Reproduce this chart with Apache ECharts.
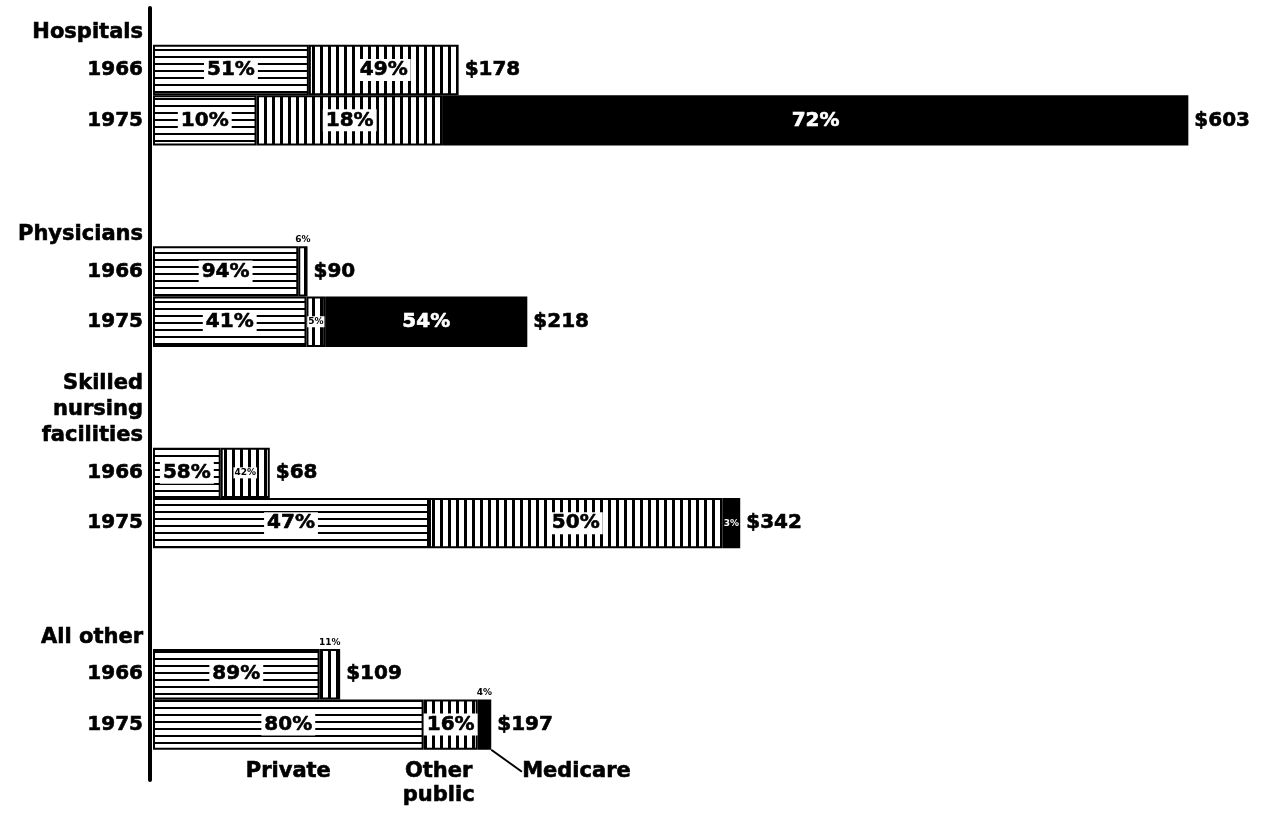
<!DOCTYPE html>
<html><head><meta charset="utf-8">
<script src="https://cdn.jsdelivr.net/npm/echarts@6/dist/echarts.min.js"></script>
<style>html,body{margin:0;padding:0;background:#fff}#c{width:1269px;height:813px}</style>
</head><body><div id="c"></div>
<script>
// ---- data (rows in order: group x year) ----
const groups = ['Hospitals', 'Physicians', 'Skilled\nnursing\nfacilities', 'All other'];
const years = ['1966', '1975'];
const totals         = [178, 603, 90, 218, 68, 342, 109, 197];
const privatePct     = [51, 10, 94, 41, 58, 47, 89, 80];
const otherPublicPct = [49, 18, 6, 5, 42, 50, 11, 16];
const medicarePct    = [0, 72, 0, 54, 0, 3, 0, 4];
const segmentNames   = ['Private', 'Other public', 'Medicare'];
const annotationText = ['Private', 'Other\npublic', 'Medicare'];

// ---- styles for small labels (row index -> placement) ----
const smallLabels = [
  {},
  {2: 'top', 3: 'inside', 4: 'inside', 6: 'top'},
  {5: 'inside', 7: 'top'}
];

const FONT = 'DejaVu Sans';
const STROKE = 0.6;
const pcts = [privatePct, otherPublicPct, medicarePct];

// categories with gap slots between groups
const cats = [], rowOfCat = [];
groups.forEach((g, gi) => {
  if (gi > 0) { cats.push('gap' + gi + 'a'); rowOfCat.push(-1); cats.push('gap' + gi + 'b'); rowOfCat.push(-1); }
  years.forEach((y, yi) => { cats.push(g + ' ' + y); rowOfCat.push(gi * 2 + yi); });
});
const lastRow = totals.length - 1;

function hatch(vertical) {
  const c = document.createElement('canvas');
  if (vertical) { c.width = 8; c.height = 4; } else { c.width = 4; c.height = 7; }
  const ctx = c.getContext('2d');
  ctx.fillStyle = '#fff'; ctx.fillRect(0, 0, c.width, c.height);
  ctx.fillStyle = '#000';
  if (vertical) ctx.fillRect(0, 0, 3, c.height); else ctx.fillRect(0, 0, c.width, 2);
  return c;
}
const fills = [
  {image: hatch(false), repeat: 'repeat'},
  {image: hatch(true), repeat: 'repeat'},
  '#000'
];

const baseLabel = {fontFamily: FONT, fontWeight: 'bold', fontSize: 20, textBorderColor: '#000', textBorderWidth: STROKE};

function segLabel(s, r) {
  const mode = smallLabels[s][r];
  const dark = s === 2;
  if (mode === 'top') {
    return {show: true, position: 'top', distance: 2, fontSize: 9, color: '#000', backgroundColor: 'transparent', padding: 0, textBorderWidth: 0};
  }
  if (mode === 'inside') {
    return {show: true, position: 'inside', fontSize: 9, color: dark ? '#fff' : '#000', textBorderWidth: 0,
            backgroundColor: dark ? 'transparent' : '#fff', padding: [1, 1]};
  }
  return null;
}

const series = [];
segmentNames.forEach((name, s) => {
  series.push({
    name, type: 'bar', stack: 'main', xAxisIndex: 0, yAxisIndex: 0,
    barGap: '-100%', barCategoryGap: '0%',
    itemStyle: {color: fills[s], borderColor: '#000', borderWidth: 2},
    label: Object.assign({}, baseLabel, {
      show: true, position: 'inside', color: s === 2 ? '#fff' : '#000',
      textBorderColor: s === 2 ? '#fff' : '#000',
      backgroundColor: s === 2 ? 'transparent' : '#fff', padding: [1, 3],
      formatter: p => p.data.pct + '%'
    }),
    emphasis: {disabled: true},
    data: cats.map((c, ci) => {
      const r = rowOfCat[ci];
      if (r < 0 || !pcts[s][r]) return '-';
      const item = {value: totals[r] * pcts[s][r] / 100, pct: pcts[s][r]};
      const l = segLabel(s, r);
      if (l) item.label = l;
      return item;
    })
  });
});

// totals at bar ends
series.push({
  name: 'Total', type: 'bar', xAxisIndex: 0, yAxisIndex: 0,
  barGap: '-100%', barCategoryGap: '0%', silent: true,
  itemStyle: {color: 'rgba(0,0,0,0)', borderWidth: 0},
  label: Object.assign({}, baseLabel, {show: true, position: 'right', distance: 6, color: '#000',
    formatter: p => '$' + p.value}),
  data: cats.map((c, ci) => rowOfCat[ci] < 0 ? '-' : totals[rowOfCat[ci]])
});

// segment annotations under the last bar
segmentNames.forEach((name, s) => {
  const lbl = Object.assign({}, baseLabel, {show: true, position: 'bottom', distance: 10, color: '#000',
    fontSize: 21, lineHeight: 24, formatter: () => annotationText[s]});
  const sr = {
    name: name + ' note', type: 'bar', stack: 'annot', xAxisIndex: 0, yAxisIndex: 0,
    barGap: '-100%', barCategoryGap: '0%', silent: true,
    itemStyle: {color: 'rgba(0,0,0,0)', borderWidth: 0},
    label: lbl,
    data: cats.map((c, ci) => rowOfCat[ci] === lastRow ? totals[lastRow] * pcts[s][lastRow] / 100 : '-')
  };
  if (s === 1) sr.labelLayout = {dx: -12};
  if (s === 2) {
    sr.labelLayout = {dx: 92, dy: 0};
    sr.labelLine = {show: true, length2: 0, lineStyle: {color: '#000', width: 2}};
  }
  series.push(sr);
});

const txt = {fontFamily: FONT, fontWeight: 'bold', align: 'right', color: '#000', textBorderColor: '#000', textBorderWidth: STROKE};
const rich = {
  g: Object.assign({}, txt, {fontSize: 21, lineHeight: 26}),
  y: Object.assign({}, txt, {fontSize: 20, lineHeight: 48}),
  y2: Object.assign({}, txt, {fontSize: 20}),
  s1: {fontSize: 1, lineHeight: 26, align: 'right'},
  s3: {fontSize: 1, lineHeight: 78, align: 'right'}
};

const chart = echarts.init(document.getElementById('c'), null, {renderer: 'canvas'});
chart.setOption({
  animation: false,
  backgroundColor: '#fff',
  grid: [
    {left: 153, top: 44.8, height: 705, width: 620 * 1.717},
    {left: 150, top: 8, height: 772, width: 100}
  ],
  xAxis: [
    {type: 'value', gridIndex: 0, min: 0, max: 620, show: false},
    {type: 'value', gridIndex: 1, min: 0, max: 1, show: false}
  ],
  yAxis: [
    {
      type: 'category', gridIndex: 0, data: cats, inverse: true,
      axisLine: {show: false}, axisTick: {show: false}, splitLine: {show: false},
      axisLabel: {
        interval: 0, margin: 10, align: 'right',
        formatter: (v, i) => {
          const r = rowOfCat[i];
          if (r < 0) return '';
          const yi = r % 2, gi = Math.floor(r / 2);
          if (yi === 1) return '{y2|' + years[1] + '}';
          const lines = groups[gi].split('\n');
          return lines.map(l => '{g|' + l + '}').join('\n') + '\n{y|' + years[0] + '}\n{s' + lines.length + '| }';
        },
        rich
      }
    },
    {
      type: 'value', gridIndex: 1, min: 0, max: 1,
      axisLine: {show: true, lineStyle: {color: '#000', width: 4}},
      axisTick: {show: false}, axisLabel: {show: false}, splitLine: {show: false}
    }
  ],
  series
});
</script>
</body></html>
